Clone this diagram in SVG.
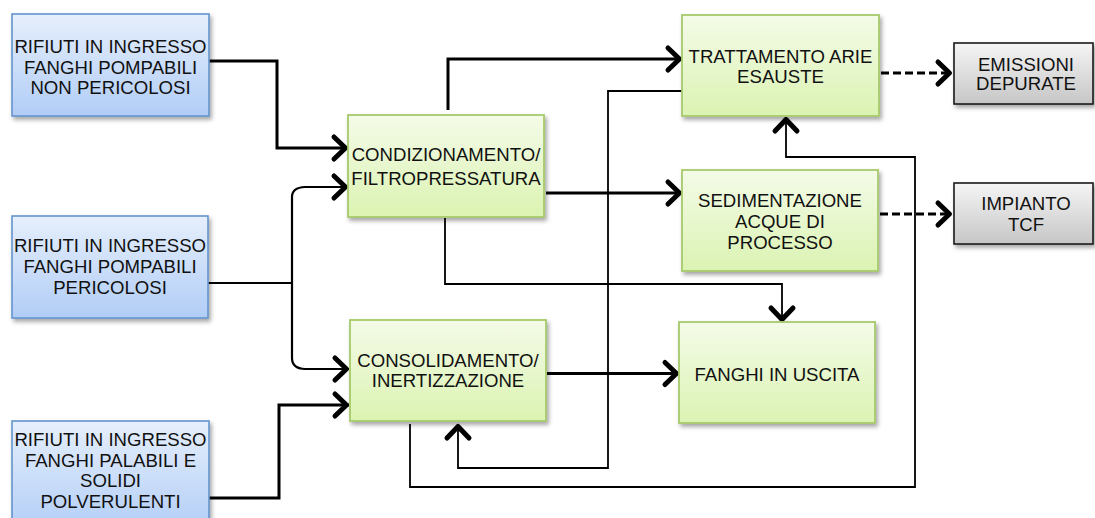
<svg xmlns="http://www.w3.org/2000/svg" width="1095" height="518" viewBox="0 0 1095 518">
  <style>
    .lbl { font-family: "Liberation Sans", Arial, sans-serif; font-size: 18.6px; fill: #111; text-anchor: middle; }
    .in { fill: url(#gBlue); stroke: #6494cc; stroke-width: 1.6; filter: url(#shadow); }
    .proc { fill: url(#gGreen); stroke: #a7c96c; stroke-width: 1.8; filter: url(#shadow); }
    .out { fill: url(#gGray); stroke: #1a1a1a; stroke-width: 1.6; filter: url(#shadow); }
    .thick { fill: none; stroke: #000; stroke-width: 3; marker-end: url(#chev); }
    .thin { fill: none; stroke: #000; stroke-width: 1.8; }
    .thinArrow { fill: none; stroke: #000; stroke-width: 1.8; marker-end: url(#chev); }
    .dash { fill: none; stroke: #000; stroke-width: 3; stroke-dasharray: 8 4; marker-end: url(#chev); }
  </style>
  <defs>
    <linearGradient id="gBlue" x1="0" y1="0" x2="0" y2="1">
      <stop offset="0" stop-color="#e6effc"/>
      <stop offset="1" stop-color="#b1cdf6"/>
    </linearGradient>
    <linearGradient id="gGreen" x1="0" y1="0" x2="0" y2="1">
      <stop offset="0" stop-color="#f4fbe8"/>
      <stop offset="1" stop-color="#dbf3b2"/>
    </linearGradient>
    <linearGradient id="gGray" x1="0" y1="0" x2="0" y2="1">
      <stop offset="0" stop-color="#f5f5f5"/>
      <stop offset="1" stop-color="#c6c6c6"/>
    </linearGradient>
    <filter id="shadow" x="-10%" y="-10%" width="125%" height="130%">
      <feDropShadow dx="2" dy="3" stdDeviation="2" flood-color="#000" flood-opacity="0.35"/>
    </filter>
    <!-- open chevron arrowhead -->
    <marker id="chev" markerUnits="userSpaceOnUse" viewBox="-18 -14 22 28" refX="0" refY="0" markerWidth="22" markerHeight="28" orient="auto" overflow="visible">
      <path d="M-14,-11 L-2.5,0 L-14,11" fill="none" stroke="#000" stroke-width="5" stroke-linecap="round" stroke-linejoin="round"/>
    </marker>
  </defs>

  <!-- connectors -->
  <g id="connectors">
    <path class="thick" d="M209,61 H277 V148 H348"/>
    <path class="thick" d="M209,498 H279 V405 H349"/>
    <path class="thin" d="M208,283 H292"/>
    <path class="thinArrow" style="stroke-width:2.2" d="M292,283 V197 Q292,187.5 305,187 H348"/>
    <path class="thinArrow" style="stroke-width:2.2" d="M292,283 V358 Q292,368.5 305,369 H349"/>
    <path class="thick" d="M448,110 V59 H682"/>
    <path class="thick" d="M546,193 H682"/>
    <path class="thick" d="M547,373.5 H679"/>
    <path class="thinArrow" d="M682,91 H608 V468 H458 V424"/>
    <path class="thinArrow" d="M445,218 V284 H782 V322"/>
    <path class="thinArrow" d="M410,424 V487 H915 V157 H786 V117"/>
    <path class="dash" d="M881,73 H952"/>
    <path class="dash" d="M880,214 H952"/>
  </g>

  <!-- inputs -->
  <g id="in-non-pericolosi">
    <rect class="in" x="12" y="14" width="197" height="102"/>
    <text class="lbl" x="110.5" y="52.5">RIFIUTI IN INGRESSO</text>
    <text class="lbl" x="110.5" y="73.5">FANGHI POMPABILI</text>
    <text class="lbl" x="110.5" y="94">NON PERICOLOSI</text>
  </g>
  <g id="in-pericolosi">
    <rect class="in" x="12" y="216" width="196" height="102"/>
    <text class="lbl" x="110" y="252">RIFIUTI IN INGRESSO</text>
    <text class="lbl" x="110" y="273">FANGHI POMPABILI</text>
    <text class="lbl" x="110" y="294">PERICOLOSI</text>
  </g>
  <g id="in-palabili">
    <rect class="in" x="12" y="421" width="197" height="112"/>
    <text class="lbl" x="110.5" y="445.5">RIFIUTI IN INGRESSO</text>
    <text class="lbl" x="110.5" y="466.5">FANGHI PALABILI E</text>
    <text class="lbl" x="110.5" y="487">SOLIDI</text>
    <text class="lbl" x="110.5" y="508">POLVERULENTI</text>
  </g>

  <!-- process stages -->
  <g id="condizionamento">
    <rect class="proc" x="348" y="115" width="196" height="102"/>
    <text class="lbl" x="446" y="161">CONDIZIONAMENTO/</text>
    <text class="lbl" x="446" y="185">FILTROPRESSATURA</text>
  </g>
  <g id="consolidamento">
    <rect class="proc" x="350" y="320" width="196" height="101"/>
    <text class="lbl" x="448" y="366.5">CONSOLIDAMENTO/</text>
    <text class="lbl" x="448" y="386.5">INERTIZZAZIONE</text>
  </g>
  <g id="trattamento-arie">
    <rect class="proc" x="682" y="15" width="197" height="101"/>
    <text class="lbl" x="780.5" y="62.5">TRATTAMENTO ARIE</text>
    <text class="lbl" x="780.5" y="83">ESAUSTE</text>
  </g>
  <g id="sedimentazione">
    <rect class="proc" x="682" y="170" width="196" height="101"/>
    <text class="lbl" x="780" y="206.5">SEDIMENTAZIONE</text>
    <text class="lbl" x="780" y="227.5">ACQUE DI</text>
    <text class="lbl" x="780" y="249">PROCESSO</text>
  </g>
  <g id="fanghi-uscita">
    <rect class="proc" x="679" y="322" width="196" height="101"/>
    <text class="lbl" x="777" y="380.5">FANGHI IN USCITA</text>
  </g>

  <!-- outputs -->
  <g id="emissioni">
    <rect class="out" x="954" y="43" width="139" height="61"/>
    <text class="lbl" x="1026" y="70.5">EMISSIONI</text>
    <text class="lbl" x="1026" y="90">DEPURATE</text>
  </g>
  <g id="impianto-tcf">
    <rect class="out" x="954" y="183" width="139" height="61"/>
    <text class="lbl" x="1026" y="209.5">IMPIANTO</text>
    <text class="lbl" x="1026" y="231">TCF</text>
  </g>
</svg>
